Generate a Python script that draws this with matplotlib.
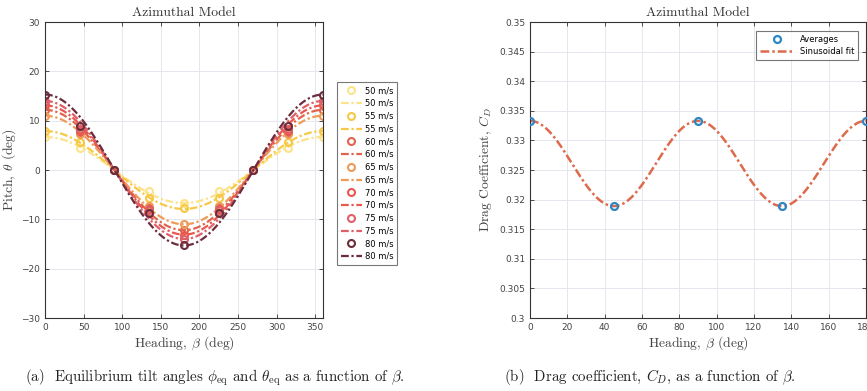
import numpy as np
import matplotlib.pyplot as plt

plt.rcParams['mathtext.fontset'] = 'cm'
plt.rcParams['axes.formatter.use_mathtext'] = False

# ---- data, left panel (pitch vs heading)
heading = [0, 45, 90, 135, 180, 225, 270, 315, 360]
speeds = ['50 m/s', '55 m/s', '60 m/s', '65 m/s', '70 m/s', '75 m/s', '80 m/s']
pitch_50 = [6.7, 4.4, 0, -4.3, -6.6, -4.3, 0, 4.4, 6.7]
pitch_55 = [7.9, 5.7, 0, -5.6, -7.7, -5.6, 0, 5.7, 7.9]
pitch_60 = [12.2, 7.8, 0, -7.7, -12.2, -7.7, 0, 7.8, 12.2]
pitch_65 = [11.0, 7.3, 0, -7.2, -11.0, -7.2, 0, 7.3, 11.0]
pitch_70 = [13.1, 8.0, 0, -8.0, -13.1, -8.0, 0, 8.0, 13.1]
pitch_75 = [14.0, 8.3, 0, -8.2, -14.0, -8.2, 0, 8.3, 14.0]
pitch_80 = [15.3, 9.0, 0, -8.7, -15.2, -8.7, 0, 9.0, 15.3]
pitch_all = [pitch_50, pitch_55, pitch_60, pitch_65, pitch_70, pitch_75, pitch_80]
# amplitude of the cosine fit for each speed
fit_amp = [6.7, 7.9, 12.2, 11.0, 13.1, 14.0, 15.3]
speed_colors = ['#FCE38A', '#F6C945', '#E0644C', '#EE9A58', '#E9574F', '#DF5F68', '#6C2D3D']

# ---- data, right panel (drag coefficient)
heading_cd = [0, 45, 90, 135, 180]
cd_avg = [0.3333, 0.3189, 0.3333, 0.3189, 0.3333]
cd_mean = 0.3261
cd_amp = 0.0072

fig = plt.figure(figsize=(8.67, 3.91), dpi=100)
ax1 = fig.add_axes([0.0519, 0.1867, 0.3206, 0.757])
ax2 = fig.add_axes([0.6113, 0.1867, 0.3875, 0.757])

def style_axes(ax):
    ax.grid(True, color='#e4e8ee', linewidth=0.7)
    ax.set_axisbelow(True)
    ax.tick_params(direction='in', top=True, right=True, labelsize=6.5,
                   colors='#333333', length=3, width=0.6, labelcolor='#444444')
    for s in ax.spines.values():
        s.set_color('#333333')
        s.set_linewidth(0.8)

dash = (0, (3.5, 1.2, 1, 1.2))

bb = np.linspace(0, 360, 200)
for name, vals, amp, c in zip(speeds, pitch_all, fit_amp, speed_colors):
    ax1.plot(heading, vals, 'o', mfc='none', mec=c, mew=1.5, ms=5, label=name)
    ax1.plot(bb, amp * np.cos(np.radians(bb)), color=c, lw=1.6, ls=dash, label=name)
ax1.set_xlim(0, 360)
ax1.set_ylim(-30, 30)
ax1.set_xticks(range(0, 351, 50))
ax1.set_yticks(range(-30, 31, 10))
style_axes(ax1)
ax1.set_title('Azimuthal Model', fontsize=9.8, color='#333333', pad=4, fontname='cmr10')
ax1.set_xlabel(r'Heading, $\beta$ (deg)', fontsize=9.8, fontname='cmr10', color='#444444', labelpad=2)
ax1.set_ylabel(r'Pitch, $\theta$ (deg)', fontsize=9.8, fontname='cmr10', color='#444444', labelpad=2)
leg = ax1.legend(loc='upper left', bbox_to_anchor=(1.035, 0.81), fontsize=6,
                 handlelength=2.6, labelspacing=0.45, borderpad=0.45,
                 handletextpad=0.3, fancybox=False, edgecolor='#555555')
leg.get_frame().set_linewidth(0.8)

bc = np.linspace(0, 180, 300)
ax2.plot(bc, cd_mean + cd_amp * np.cos(np.radians(4 * bc)), color='#DE6A4C', lw=1.8,
         ls=dash, zorder=2)
ax2.plot(heading_cd, cd_avg, 'o', mfc='none', mec='#2D86C4', mew=1.6, ms=5, zorder=3)
ax2.plot([], [], 'o', mfc='none', mec='#2D86C4', mew=1.6, ms=5, label='Averages')
ax2.plot([], [], color='#DE6A4C', lw=1.8, ls=dash, label='Sinusoidal fit')
ax2.set_xlim(0, 180)
ax2.set_ylim(0.3, 0.35)
ax2.set_xticks(range(0, 181, 20))
ax2.set_yticks(np.arange(0.3, 0.3501, 0.005))
ax2.set_yticklabels(['0.3', '0.305', '0.31', '0.315', '0.32', '0.325', '0.33',
                     '0.335', '0.34', '0.345', '0.35'])
style_axes(ax2)
ax2.set_title('Azimuthal Model', fontsize=9.8, color='#333333', pad=4, fontname='cmr10')
ax2.set_xlabel(r'Heading, $\beta$ (deg)', fontsize=9.8, fontname='cmr10', color='#444444', labelpad=2)
ax2.set_ylabel(r'Drag Coefficient, $C_D$', fontsize=9.8, fontname='cmr10', color='#444444', labelpad=4)
leg2 = ax2.legend(loc='upper right', bbox_to_anchor=(0.99, 0.985), fontsize=6,
                  handlelength=4, borderpad=0.5, labelspacing=0.4,
                  fancybox=False, edgecolor='#555555')
leg2.get_frame().set_linewidth(0.8)

fig.text(0.248, 0.025, r'(a)  Equilibrium tilt angles $\phi_{\rm eq}$ and $\theta_{\rm eq}$ as a function of $\beta$.',
         ha='center', fontsize=10.8, fontname='cmr10', color='#222222')
fig.text(0.75, 0.025, r'(b)  Drag coefficient, $C_D$, as a function of $\beta$.',
         ha='center', fontsize=10.8, fontname='cmr10', color='#222222')

fig.savefig('out.png', dpi=100)
